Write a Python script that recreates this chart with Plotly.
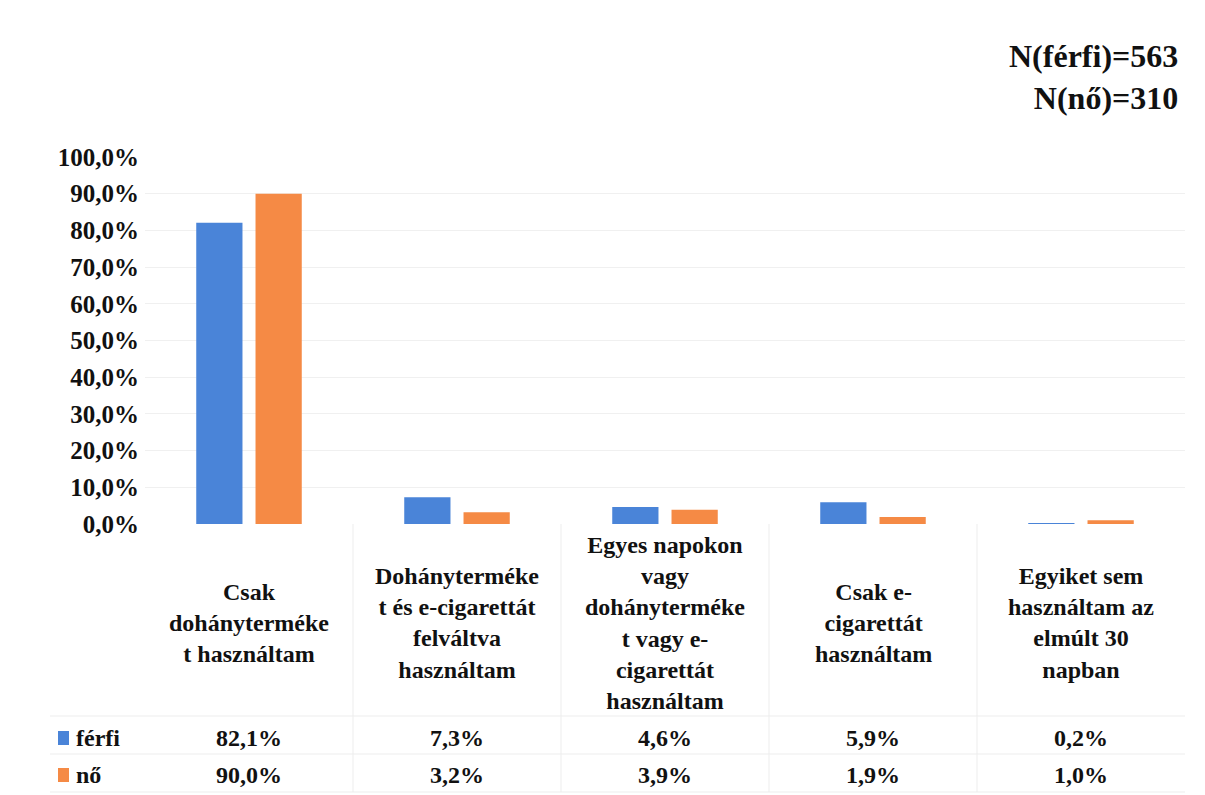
import plotly.graph_objects as go

categories = [
    "Csak<br>dohányterméke<br>t használtam",
    "Dohányterméke<br>t és e-cigarettát<br>felváltva<br>használtam",
    "Egyes napokon<br>vagy<br>dohányterméke<br>t vagy e-<br>cigarettát<br>használtam",
    "Csak e-<br>cigarettát<br>használtam",
    "Egyiket sem<br>használtam az<br>elmúlt 30<br>napban",
]
series_names = ["férfi", "nő"]
ferfi = [82.1, 7.3, 4.6, 5.9, 0.2]
no = [90.0, 3.2, 3.9, 1.9, 1.0]
colors = ["#4A84D8", "#F58A45"]
y_ticks = [0, 10, 20, 30, 40, 50, 60, 70, 80, 90, 100]

OFF = 8  # page body margin
W, H = 1205 - OFF, 795 - OFF
L, R, T, B = 145 - OFF, 20, 157 - OFF, 795 - 524
pw = W - L - R
ph = H - T - B

def px_x(x):
    return (x - OFF - L) / pw

def px_y(y):
    return (H - B - (y - OFF)) / ph

FONT = "Liberation Serif"
INK = "#111111"
xs = list(range(len(categories)))

fig = go.Figure()
for name, vals, col in zip(series_names, [ferfi, no], colors):
    fig.add_trace(go.Bar(x=xs, y=vals, name=name, marker_color=col,
                         marker_line_width=0, showlegend=False))

fig.update_layout(
    width=W, height=H,
    margin=dict(l=L, r=R, t=T, b=B),
    paper_bgcolor="white", plot_bgcolor="white",
    barmode="group", bargap=0.43, bargroupgap=0.22,
    font=dict(family=FONT, color=INK, size=22),
)
fig.update_xaxes(range=[-0.5, len(categories) - 0.5], showticklabels=False,
                 showgrid=False, zeroline=False, showline=False, ticks="")
fig.update_yaxes(range=[0, 100], tickvals=y_ticks,
                 ticktext=[f"{v},0%" for v in y_ticks],
                 tickfont=dict(family=FONT, size=25, color=INK, weight="bold"),
                 showgrid=True, gridcolor="#f0f0f0", gridwidth=1,
                 zeroline=False, showline=False, ticks="", ticklabelstandoff=5)

ann = []
for i, c in enumerate(categories):
    ann.append(dict(x=i, y=px_y(623), xref="x", yref="paper", text=c,
                    showarrow=False, align="center", xanchor="center", yanchor="middle",
                    font=dict(family=FONT, size=24, color=INK, weight="bold")))
row_y = [738, 775]
for vals, ry in zip([ferfi, no], row_y):
    for i, v in enumerate(vals):
        ann.append(dict(x=i, y=px_y(ry), xref="x", yref="paper",
                        text=f"{v:.1f}%".replace(".", ","), showarrow=False,
                        xanchor="center", yanchor="middle",
                        font=dict(family=FONT, size=24, color=INK, weight="bold")))
for name, ry in zip(series_names, row_y):
    ann.append(dict(x=px_x(74), y=px_y(ry), xref="paper", yref="paper", text=name,
                    showarrow=False, xanchor="left", yanchor="middle",
                    font=dict(family=FONT, size=24, color=INK, weight="bold")))
ann.append(dict(x=px_x(1180), y=px_y(77), xref="paper", yref="paper",
                text="N(férfi)=563<br>N(nő)=310", showarrow=False, align="right",
                xanchor="right", yanchor="middle",
                font=dict(family=FONT, size=32, color=INK, weight="bold")))
fig.update_layout(annotations=ann)

shapes = []
for col, ry in zip(colors, row_y):
    shapes.append(dict(type="rect", xref="paper", yref="paper",
                       x0=px_x(58), x1=px_x(69), y0=px_y(ry + 7), y1=px_y(ry - 7),
                       fillcolor=col, line=dict(width=0)))
lc = "#ededed"
for xb in [353, 561, 769, 977]:
    shapes.append(dict(type="line", xref="paper", yref="paper",
                       x0=px_x(xb), x1=px_x(xb), y0=px_y(524), y1=px_y(792),
                       line=dict(color=lc, width=1)))
for yb in [716, 754, 792]:
    shapes.append(dict(type="line", xref="paper", yref="paper",
                       x0=px_x(50), x1=px_x(1185), y0=px_y(yb), y1=px_y(yb),
                       line=dict(color=lc, width=1)))
fig.update_layout(shapes=shapes)

fig.write_html("out.html")
